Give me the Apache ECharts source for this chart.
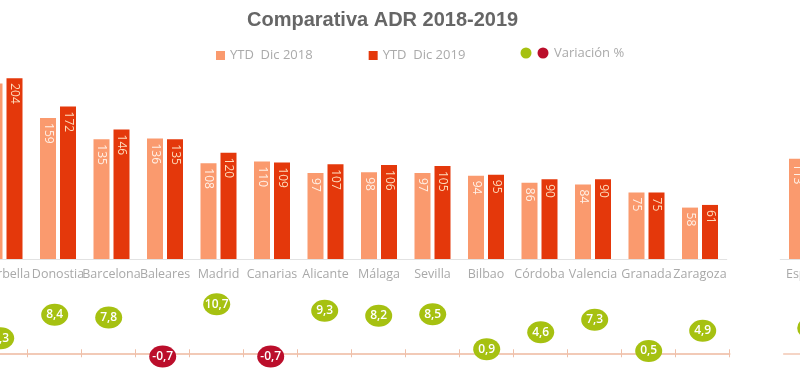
<!DOCTYPE html>
<html>
<head>
<meta charset="utf-8">
<script src="https://cdn.jsdelivr.net/npm/echarts@6/dist/echarts.min.js"></script>
<style>html,body{margin:0;padding:0;background:#fff}#c{width:800px;height:380px}</style>
</head>
<body>
<div id="c"></div>
<script>
const categories = ['Marbella','Donostia','Barcelona','Baleares','Madrid','Canarias','Alicante','Málaga','Sevilla','Bilbao','Córdoba','Valencia','Granada','Zaragoza'];
const adr2018 = [198,159,135,136,108,110,97,98,97,94,86,84,75,58];
const adr2019 = [204,172,146,135,120,109,107,106,105,95,90,90,75,61];
const variacion = [3.3,8.4,7.8,-0.7,10.7,-0.7,9.3,8.2,8.5,0.9,4.6,7.3,0.5,4.9];
const totalCategory = ['España'];
const total2018 = [113];
const total2019 = [119];
const totalVariacion = [5.5];

const LIGHT = '#fa9a6e', DARK = '#e4380b', GREEN = '#a6c111', RED = '#bb0e2b';
const FONT = "'Open Sans', sans-serif";
const S18 = 'YTD  Dic 2018', S19 = 'YTD  Dic 2019';

function barLabel(color){
  return {show:true, position:'insideTop', rotate:-90, align:'left', verticalAlign:'middle',
    distance:5, color:color, fontSize:12, fontFamily:FONT};
}
function bubbleData(vals){
  return vals.map(v=>({value:v, itemStyle:{color: v<0?RED:GREEN, opacity:1}}));
}
const bubbleLabel = {show:true, position:'inside', color:'#fff', fontSize:12, fontWeight:600, fontFamily:FONT,
  formatter:p=>String(p.value).replace('.', ',')};
const catLabel = {color:'#a9a9a9', fontSize:12.5, fontFamily:FONT, interval:0, margin:9};
const lowLineStyle = {color:'#f2c8b4', width:1.5};
const tickStyle = {color:'#efbfa8'};

const chart = echarts.init(document.getElementById('c'));
chart.setOption({
  animation:false,
  title:{text:'Comparativa ADR 2018-2019', left:242, top:5,
    textStyle:{fontFamily:"'Liberation Sans', Arial, sans-serif", fontSize:20, fontWeight:'bold', color:'#666'}},
  legend:{data:[S18,S19], left:211, top:44, icon:'rect', itemWidth:9, itemHeight:9, itemGap:56,
    textStyle:{color:'#aaa', fontSize:13, fontFamily:FONT}},
  graphic:[
    {type:'circle', shape:{cx:526, cy:53, r:5.5}, style:{fill:GREEN}},
    {type:'circle', shape:{cx:543, cy:53, r:5.5}, style:{fill:RED}},
    {type:'text', x:554, y:53, style:{text:'Variación %', fill:'#aaa', font:"13px 'Open Sans'", verticalAlign:'middle'}}
  ],
  grid:[
    {left:-22.25, width:749, top:64, height:195, outerBoundsMode:'none', containLabel:false},
    {left:780.25, width:53.5, top:64, height:195, outerBoundsMode:'none', containLabel:false},
    {left:-26.3, width:756, top:298.3, height:73.3, outerBoundsMode:'none', containLabel:false},
    {left:783.7, width:54, top:298.3, height:73.3, outerBoundsMode:'none', containLabel:false}
  ],
  xAxis:[
    {gridIndex:0, type:'category', data:categories, axisLine:{lineStyle:{color:'#e2e2e2'}}, axisTick:{show:false}, axisLabel:catLabel},
    {gridIndex:1, type:'category', data:totalCategory, axisLine:{lineStyle:{color:'#e2e2e2'}}, axisTick:{show:false}, axisLabel:catLabel},
    {gridIndex:2, type:'category', data:categories, position:'bottom', axisLine:{show:true, onZero:true, onZeroAxisIndex:2, lineStyle:lowLineStyle},
      axisTick:{show:true, interval:0, inside:false, length:4, lineStyle:tickStyle}, axisLabel:{show:false, interval:0}},
    {gridIndex:2, type:'category', data:categories, position:'bottom', axisLine:{show:true, onZero:true, onZeroAxisIndex:2, lineStyle:lowLineStyle},
      axisTick:{show:true, interval:0, inside:true, length:4, lineStyle:tickStyle}, axisLabel:{show:false, interval:0}},
    {gridIndex:3, type:'category', data:totalCategory, position:'bottom', axisLine:{show:true, onZero:true, onZeroAxisIndex:3, lineStyle:lowLineStyle},
      axisTick:{show:false}, axisLabel:{show:false}}
  ],
  yAxis:[
    {gridIndex:0, type:'value', min:0, max:220, show:false},
    {gridIndex:1, type:'value', min:0, max:220, show:false},
    {gridIndex:2, type:'value', min:-4, max:12, show:false},
    {gridIndex:3, type:'value', min:-4, max:12, show:false}
  ],
  series:[
    {name:S18, type:'bar', xAxisIndex:0, yAxisIndex:0, data:adr2018, barWidth:16, barGap:'25%', itemStyle:{color:LIGHT}, label:barLabel('#fff0e6')},
    {name:S19, type:'bar', xAxisIndex:0, yAxisIndex:0, data:adr2019, barWidth:16, barGap:'25%', itemStyle:{color:DARK}, label:barLabel('#fddcbc')},
    {name:S18, type:'bar', xAxisIndex:1, yAxisIndex:1, data:total2018, barWidth:16, barGap:'25%', itemStyle:{color:LIGHT}, label:barLabel('#fff0e6')},
    {name:S19, type:'bar', xAxisIndex:1, yAxisIndex:1, data:total2019, barWidth:16, barGap:'25%', itemStyle:{color:DARK}, label:barLabel('#fddcbc')},
    {name:'Variación %', type:'scatter', xAxisIndex:2, yAxisIndex:2, data:bubbleData(variacion), symbol:'circle', symbolSize:[27,22], label:bubbleLabel},
    {name:'Variación %', type:'scatter', xAxisIndex:4, yAxisIndex:3, data:bubbleData(totalVariacion), symbol:'circle', symbolSize:[27,22], label:bubbleLabel}
  ]
});
</script>
</body>
</html>
